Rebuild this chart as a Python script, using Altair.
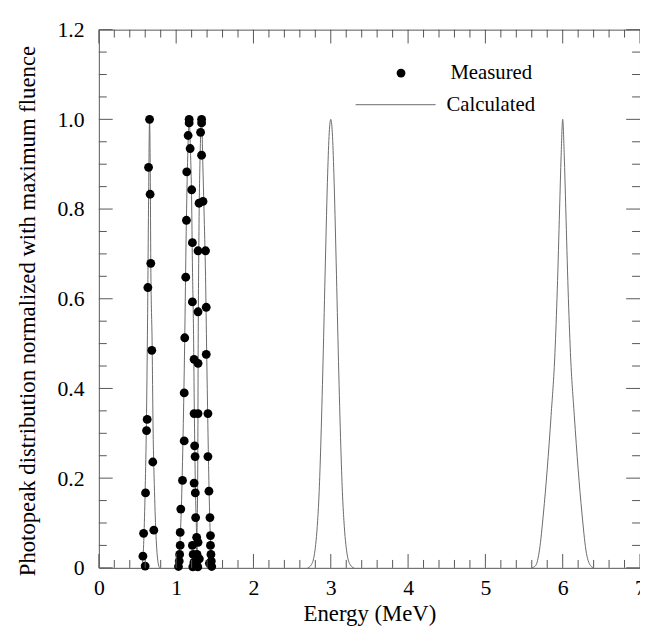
import altair as alt
import pandas as pd
import numpy as np

# ---------------- data ----------------
# Measured photopeak points (Cs-137 and Co-60)
meas_energy = [
    0.656, 0.643, 0.663, 0.672, 0.634, 0.685, 0.625, 0.617, 0.698, 0.604, 0.579, 0.711, 0.570, 0.599,
    1.168, 1.168, 1.155, 1.181, 1.137, 1.201, 1.133, 1.210, 1.124, 1.210, 1.111, 1.232, 1.104, 1.232,
    1.104, 1.239, 1.082, 1.232, 1.060, 1.252, 1.052, 1.265, 1.052, 1.210, 1.045, 1.040, 1.030, 1.220,
    1.230, 1.215,
    1.329, 1.329, 1.316, 1.329, 1.347, 1.296, 1.283, 1.380, 1.283, 1.389, 1.283, 1.389, 1.283, 1.411,
    1.245, 1.411, 1.248, 1.424, 1.437, 1.444, 1.283, 1.444, 1.270, 1.265, 1.280, 1.450, 1.455, 1.460,
    1.300, 1.430,
]
meas_value = [
    1.000, 0.893, 0.833, 0.679, 0.625, 0.485, 0.331, 0.306, 0.236, 0.167, 0.077, 0.084, 0.026, 0.004,
    1.000, 0.992, 0.964, 0.935, 0.883, 0.843, 0.775, 0.725, 0.648, 0.593, 0.513, 0.465, 0.390, 0.344,
    0.283, 0.272, 0.195, 0.189, 0.131, 0.112, 0.079, 0.068, 0.050, 0.050, 0.030, 0.015, 0.003, 0.030,
    0.012, 0.002,
    1.000, 0.992, 0.971, 0.920, 0.817, 0.813, 0.707, 0.707, 0.571, 0.581, 0.456, 0.476, 0.344, 0.344,
    0.248, 0.248, 0.167, 0.171, 0.112, 0.072, 0.057, 0.050, 0.030, 0.012, 0.002, 0.030, 0.015, 0.003,
    0.020, 0.010,
]

# Calculated curves (one list pair per peak)
cs_energy = [0.55, 0.57, 0.585, 0.60, 0.615, 0.63, 0.645, 0.656, 0.665, 0.672, 0.69, 0.70, 0.72, 0.74, 0.76, 0.785]
cs_value = [0.0, 0.02, 0.08, 0.18, 0.32, 0.55, 0.85, 1.0, 0.88, 0.68, 0.49, 0.33, 0.17, 0.07, 0.02, 0.0]

co1_energy = [1.01, 1.03, 1.05, 1.07, 1.09, 1.11, 1.13, 1.15, 1.168, 1.185, 1.20, 1.21, 1.225, 1.235, 1.245, 1.26, 1.275, 1.30]
co1_value = [0.0, 0.01, 0.06, 0.15, 0.30, 0.50, 0.75, 0.92, 1.0, 0.93, 0.82, 0.68, 0.52, 0.35, 0.22, 0.10, 0.04, 0.0]

co2_energy = [1.23, 1.255, 1.27, 1.28, 1.285, 1.295, 1.31, 1.329, 1.345, 1.36, 1.38, 1.395, 1.41, 1.425, 1.44, 1.46, 1.49]
co2_value = [0.0, 0.02, 0.08, 0.25, 0.50, 0.75, 0.92, 1.0, 0.90, 0.80, 0.65, 0.48, 0.32, 0.18, 0.08, 0.02, 0.0]

p3_energy = [2.70, 2.745, 2.79, 2.83, 2.85, 2.87, 2.90, 2.93, 2.96, 2.98, 3.00,
             3.02, 3.04, 3.07, 3.10, 3.13, 3.15, 3.17, 3.21, 3.255, 3.30]
p3_value = [0.0, 0.006, 0.032, 0.105, 0.17, 0.27, 0.46, 0.68, 0.88, 0.97, 1.0,
            0.97, 0.88, 0.68, 0.46, 0.27, 0.17, 0.105, 0.032, 0.006, 0.0]

p6_energy = [5.60, 5.65, 5.70, 5.75, 5.80, 5.85, 5.90, 5.93, 5.96, 5.98, 6.00,
             6.02, 6.04, 6.07, 6.10, 6.15, 6.20, 6.25, 6.30, 6.36, 6.40]
p6_value = [0.0, 0.005, 0.04, 0.12, 0.22, 0.34, 0.48, 0.62, 0.80, 0.92, 1.0,
            0.92, 0.80, 0.62, 0.48, 0.34, 0.22, 0.12, 0.04, 0.005, 0.0]

x_major = [0, 1, 2, 3, 4, 5, 6, 7]
y_major = [0, 0.2, 0.4, 0.6, 0.8, 1.0, 1.2]

# ---------------- build tables ----------------
meas_df = pd.DataFrame({"E": meas_energy, "v": meas_value})
calc_parts = []
for name, es, vs in [("Cs", cs_energy, cs_value), ("Co1", co1_energy, co1_value),
                     ("Co2", co2_energy, co2_value), ("P3", p3_energy, p3_value),
                     ("P6", p6_energy, p6_value)]:
    calc_parts.append(pd.DataFrame({"E": es, "v": vs, "peak": name, "i": range(len(es))}))
calc_df = pd.concat(calc_parts, ignore_index=True)

x_minor = [round(v, 2) for v in np.arange(0, 7.0001, 0.2) if abs(v - round(v)) > 1e-6]
y_minor = [round(v, 2) for v in np.arange(0, 1.2001, 0.05) if abs(v / 0.2 - round(v / 0.2)) > 1e-6]
xmaj_df = pd.DataFrame({"E": x_major})
xmin_df = pd.DataFrame({"E": x_minor})
ymaj_df = pd.DataFrame({"v": y_major})
ymin_df = pd.DataFrame({"v": y_minor})

W, H = 548, 545
FONT = "Liberation Serif"
AX = "#555555"
MAJ, MIN = 14, 8

xs = alt.Scale(domain=[0, 7], nice=False, zero=False)
ys = alt.Scale(domain=[0, 1.2], nice=False, zero=False)

x_axis = alt.Axis(
    values=x_major, ticks=False, domain=False, grid=False, format="d", labelFlush=False,
    labelFont=FONT, labelFontSize=22, labelColor="black", labelPadding=10,
    title="Energy (MeV)", titleFont=FONT, titleFontSize=23, titleFontWeight="normal",
    titleColor="black", titleBaseline="middle", titleY=46)
y_axis = alt.Axis(
    values=y_major, ticks=False, domain=False, grid=False, labelFlush=False,
    labelExpr="datum.value == 0 ? '0' : format(datum.value, '.1f')",
    labelFont=FONT, labelFontSize=22, labelColor="black", labelPadding=15,
    title="Photopeak distribution normalized with maximum fluence",
    titleFont=FONT, titleFontSize=23, titleFontWeight="normal", titleColor="black",
    titleAngle=270, titleBaseline="middle", titleAlign="center", titleX=-72, titleY=H / 2 + 12)

X = alt.X("E:Q", scale=xs, axis=x_axis, title="Energy (MeV)")
Y = alt.Y("v:Q", scale=ys, axis=y_axis, title="Photopeak distribution normalized with maximum fluence")

calc = alt.Chart(calc_df).mark_line(color="#6a6a6a", strokeWidth=1, interpolate="monotone").encode(
    x=X, y=Y, detail="peak:N", order="i:Q",
)

pts = alt.Chart(meas_df).mark_circle(color="black", opacity=1, size=80).encode(x=X, y=Y)


def xticks(df, length):
    bottom = alt.Chart(df).mark_rule(color=AX, strokeWidth=1).encode(
        x=X, y=alt.value(H), y2=alt.value(H - length))
    top = alt.Chart(df).mark_rule(color=AX, strokeWidth=1).encode(
        x=X, y=alt.value(0), y2=alt.value(length))
    return [bottom, top]


def yticks(df, length):
    left = alt.Chart(df).mark_rule(color=AX, strokeWidth=1).encode(
        y=Y, x=alt.value(0), x2=alt.value(length))
    right = alt.Chart(df).mark_rule(color=AX, strokeWidth=1).encode(
        y=Y, x=alt.value(W), x2=alt.value(W - length))
    return [left, right]


ticks = xticks(xmaj_df, MAJ) + xticks(xmin_df, MIN) + yticks(ymaj_df, MAJ) + yticks(ymin_df, MIN)

leg_m = pd.DataFrame({"label": ["Measured"]})
leg_c = pd.DataFrame({"label": ["Calculated"]})
leg_dot = alt.Chart(leg_m).mark_circle(color="black", opacity=1, size=80).encode(
    x=alt.value(306), y=alt.value(44))
leg_mtext = alt.Chart(leg_m).mark_text(align="left", baseline="middle", font=FONT, fontSize=21,
                                       color="black").encode(x=alt.value(356), y=alt.value(44), text="label:N")
leg_line = alt.Chart(leg_c).mark_rule(color="#6a6a6a", strokeWidth=1).encode(
    x=alt.value(260), x2=alt.value(341), y=alt.value(76))
leg_ctext = alt.Chart(leg_c).mark_text(align="left", baseline="middle", font=FONT, fontSize=21,
                                       color="black").encode(x=alt.value(352), y=alt.value(76), text="label:N")

chart = alt.layer(calc, pts, *ticks, leg_dot, leg_mtext, leg_line, leg_ctext).properties(
    width=W, height=H,
    autosize=alt.AutoSizeParams(type="none"),
    padding={"left": 92, "top": 18, "right": 0, "bottom": 58},
    background="white",
).configure_view(stroke=AX, strokeWidth=1)

chart.save("out.html", embed_options={"renderer": "svg", "actions": False})
